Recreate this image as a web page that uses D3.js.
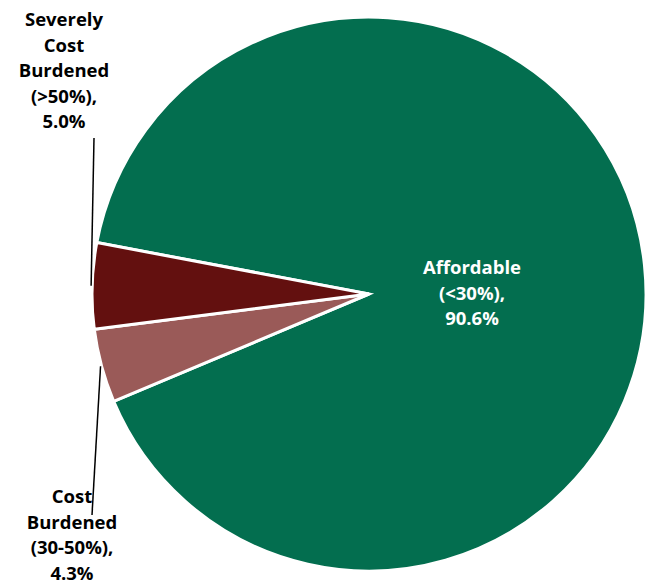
<!DOCTYPE html>
<html lang="en">
<head>
<meta charset="UTF-8">
<title>Housing Cost Burden</title>
<script src="https://d3js.org/d3.v7.min.js"></script>
<style>
    body { margin: 0; background: #fff; }
    text { font-family: "Open Sans", Lato, sans-serif; font-weight: 700; font-size: 18.5px; }
</style>
</head>
<body>
<svg id="chart" width="648" height="584"></svg>
<script>
// data
const categories = ["Affordable (<30%)", "Cost Burdened (30-50%)", "Severely Cost Burdened (>50%)"];
const values = [90.6, 4.3, 5.0];
const labelLines = [
    ["Affordable", "(<30%),", "90.6%"],
    ["Cost", "Burdened", "(30-50%),", "4.3%"],
    ["Severely", "Cost", "Burdened", "(>50%),", "5.0%"]
];
const colors = ["#036e4f", "#9a5a58", "#63100f"];

const svg = d3.select("#chart");
const cx = 369, cy = 294, r = 277;
const g = svg.append("g").attr("transform", `translate(${cx},${cy})`);

// first slice starts a bit left of 12 o'clock so the small slices sit at 9 o'clock
const start = -79.3 * Math.PI / 180;
const pie = d3.pie().sort(null).startAngle(start).endAngle(start + 2 * Math.PI);
const arcs = pie(values);
const arc = d3.arc().innerRadius(0).outerRadius(r);

g.selectAll("path")
    .data(arcs)
    .enter().append("path")
    .attr("d", arc)
    .attr("fill", (d, i) => colors[i])
    .attr("stroke", "#fff")
    .attr("stroke-width", 3)
    .attr("stroke-linejoin", "miter");

// label positions (page coords, center x of text block, first baseline)
const labelPos = [
    { x: 472, y: 274, fill: "#fff" },
    { x: 72, y: 503, fill: "#000" },
    { x: 64, y: 26, fill: "#000" }
];
const lineH = 25.5;

// leader lines for the outside labels
const leaderEnd = [null, { x: 92, y: 515 }, { x: 94, y: 138 }];
arcs.forEach((d, i) => {
    if (!leaderEnd[i]) return;
    const mid = (d.startAngle + d.endAngle) / 2;
    const px = cx + (r + 1) * Math.sin(mid);
    const py = cy - (r + 1) * Math.cos(mid);
    svg.append("line")
        .attr("x1", px).attr("y1", py)
        .attr("x2", leaderEnd[i].x).attr("y2", leaderEnd[i].y)
        .attr("stroke", "#000").attr("stroke-width", 1.5);
});

labelLines.forEach((lines, i) => {
    const t = svg.append("text")
        .attr("text-anchor", "middle")
        .attr("fill", labelPos[i].fill);
    lines.forEach((s, j) => {
        t.append("tspan")
            .attr("x", labelPos[i].x)
            .attr("y", labelPos[i].y + j * lineH)
            .text(s);
    });
});
</script>
</body>
</html>
